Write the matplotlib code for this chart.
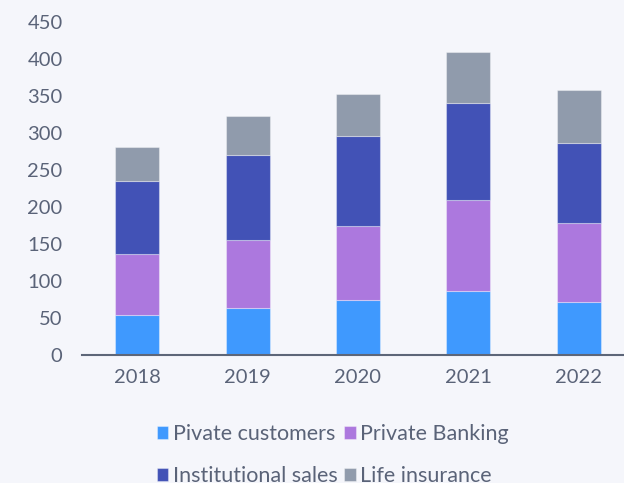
import matplotlib.pyplot as plt
import numpy as np

years = ['2018', '2019', '2020', '2021', '2022']
private_customers = [54, 64, 74, 87, 71]
private_banking = [82, 92, 100, 122, 108]
institutional_sales = [99, 114, 122, 131, 107]
life_insurance = [46, 53, 57, 70, 72]

series = [
    ('Pivate customers', private_customers, '#3f99fe'),
    ('Private Banking', private_banking, '#ac78de'),
    ('Institutional sales', institutional_sales, '#4252b6'),
    ('Life insurance', life_insurance, '#909bac'),
]

bg = '#f5f6fb'
text_color = '#5a6378'

plt.rcParams['font.family'] = ['Lato', 'DejaVu Sans']

fig = plt.figure(figsize=(6.24, 4.83), dpi=100, facecolor=bg)
ax = fig.add_axes([82 / 624, 1 - 355 / 483, 1 - 82 / 624, (355 - 22) / 483])
ax.set_facecolor(bg)

x = np.arange(len(years))
bottom = np.zeros(len(years))
handles = []
for label, vals, color in series:
    b = ax.bar(x, vals, width=0.4, bottom=bottom, color=color, label=label,
               edgecolor=(1, 1, 1, 0.35), linewidth=0.8)
    handles.append(b)
    bottom += np.array(vals)

ax.set_ylim(0, 450)
ax.set_xlim(-0.5, 4.41)
ax.set_yticks(range(0, 451, 50))
ax.set_xticks(x)
ax.set_xticklabels(years)

for s in ['top', 'right', 'left']:
    ax.spines[s].set_visible(False)
ax.spines['bottom'].set_color('#5d6678')
ax.spines['bottom'].set_linewidth(1.5)
ax.tick_params(axis='both', length=0, labelsize=14.5, colors=text_color)
ax.tick_params(axis='y', pad=14)
ax.tick_params(axis='x', pad=10)

order = [0, 2, 1, 3]
leg = fig.legend([handles[i] for i in order], [series[i][0] for i in order],
                 ncol=2, loc='center', bbox_to_anchor=(0.533, 0.058),
                 frameon=False, fontsize=15.5, handlelength=0.55, handleheight=0.55,
                 handletextpad=0.2, columnspacing=0.3, labelspacing=1.0)
for t in leg.get_texts():
    t.set_color(text_color)

plt.savefig('out.png', dpi=100, facecolor=bg)
